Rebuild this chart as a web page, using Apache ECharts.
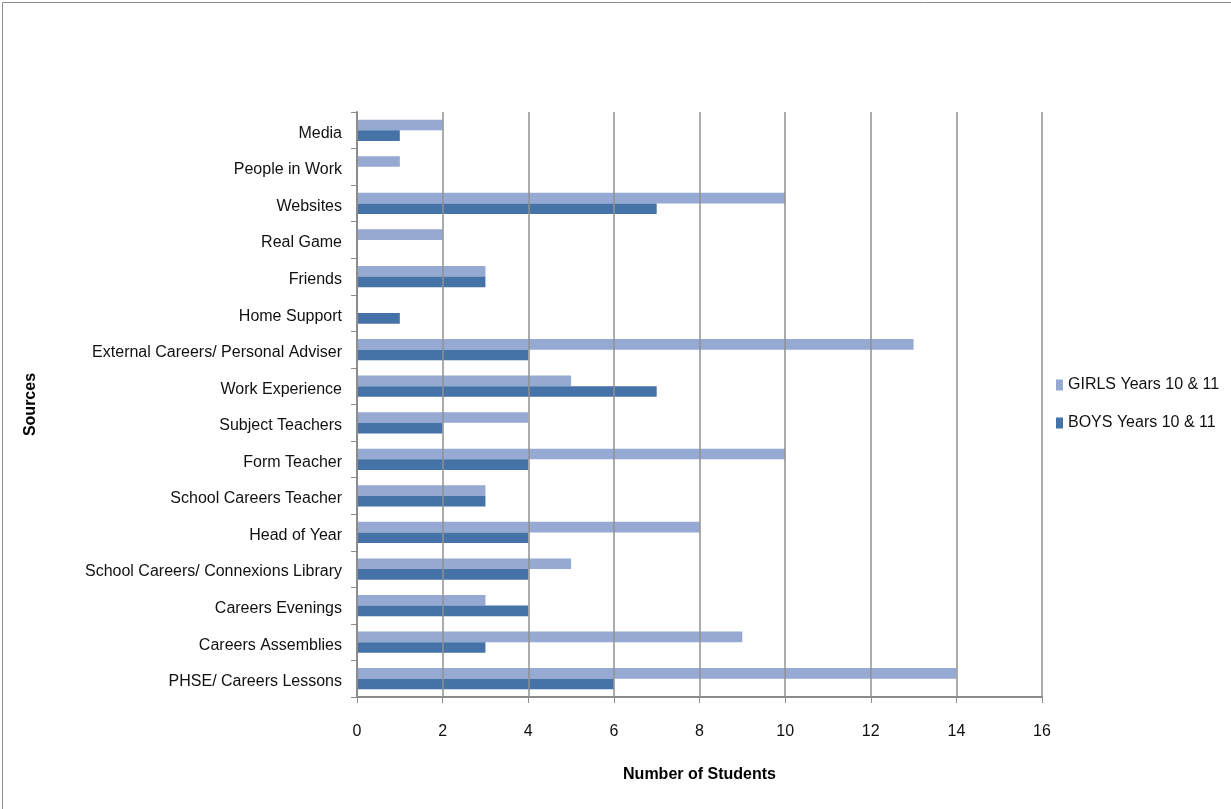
<!DOCTYPE html>
<html>
<head>
<meta charset="utf-8">
<script src="https://cdn.jsdelivr.net/npm/echarts@6/dist/echarts.min.js"></script>
<style>
  html, body { margin: 0; padding: 0; background: #fff; }
  #chart { width: 1231px; height: 809px; }
</style>
</head>
<body>
<div id="chart"></div>
<script>
// Sources of careers information, listed top to bottom
const sources = [
  'Media', 'People in Work', 'Websites', 'Real Game', 'Friends', 'Home Support',
  'External Careers/ Personal Adviser', 'Work Experience', 'Subject Teachers',
  'Form Teacher', 'School Careers Teacher', 'Head of Year',
  'School Careers/ Connexions Library', 'Careers Evenings', 'Careers Assemblies',
  'PHSE/ Careers Lessons'
];
const girls = [2, 1, 10, 2, 3, 0, 13, 5, 4, 10, 3, 8, 5, 3, 9, 14];
const boys  = [1, 0, 7, 0, 3, 1, 4, 7, 2, 4, 3, 4, 4, 4, 3, 6];
const seriesNames = ['GIRLS Years 10 & 11', 'BOYS Years 10 & 11'];
const xTicks = { min: 0, max: 16, interval: 2 };

const font = '"Liberation Sans Narrow", "Arial Narrow", "Liberation Sans", Arial, sans-serif';
const chart = echarts.init(document.getElementById('chart'));

chart.setOption({
  animation: false,
  textStyle: { fontFamily: font },
  graphic: [{
    type: 'rect',
    shape: { x: 2.5, y: 2.5, width: 1250, height: 830 },
    style: { fill: 'none', stroke: '#8c8c8c', lineWidth: 1 },
    silent: true
  }],
  legend: {
    orient: 'vertical',
    left: 1051,
    top: 372,
    itemWidth: 7,
    itemHeight: 11,
    itemGap: 22,
    icon: 'rect',
    itemStyle: { borderWidth: 0 },
    textStyle: { fontFamily: font, fontSize: 16, color: '#111' },
    data: seriesNames
  },
  grid: { left: 357, right: 189, top: 112, bottom: 112, containLabel: false },
  xAxis: {
    type: 'value',
    z: 5,
    min: xTicks.min, max: xTicks.max, interval: xTicks.interval,
    name: 'Number of Students',
    nameLocation: 'middle',
    nameGap: 70,
    nameTextStyle: { fontFamily: font, fontSize: 16, fontWeight: 'bold', color: '#000' },
    axisLine: { show: true, lineStyle: { color: '#8c8c8c', width: 2 } },
    axisTick: { show: true, length: 6, lineStyle: { color: '#8c8c8c' } },
    axisLabel: { margin: 27, fontSize: 16, color: '#111', fontFamily: font },
    splitLine: { show: true, lineStyle: { color: '#909090', width: 1.5 } }
  },
  yAxis: {
    type: 'category',
    z: 5,
    inverse: true,
    data: sources,
    name: 'Sources',
    nameLocation: 'middle',
    nameGap: 318,
    nameRotate: 90,
    nameTextStyle: { fontFamily: font, fontSize: 16, fontWeight: 'bold', color: '#000' },
    axisLine: { show: true, lineStyle: { color: '#8c8c8c', width: 2 } },
    axisTick: { show: true, length: 6, alignWithLabel: false, lineStyle: { color: '#8c8c8c' } },
    axisLabel: {
      margin: 15, fontSize: 16, color: '#111', fontFamily: font,
      formatter: (v) => '{s|' + v + '}',
      rich: { s: { fontSize: 16, color: '#111', fontFamily: font, padding: [6, 0, 0, 0] } }
    }
  },
  series: [
    {
      name: seriesNames[0], type: 'bar', data: girls,
      barGap: '0%', barCategoryGap: '42%',
      itemStyle: { color: '#95a9d3' }
    },
    {
      name: seriesNames[1], type: 'bar', data: boys,
      barGap: '0%', barCategoryGap: '42%',
      itemStyle: { color: '#4572a7' }
    }
  ]
});
</script>
</body>
</html>
